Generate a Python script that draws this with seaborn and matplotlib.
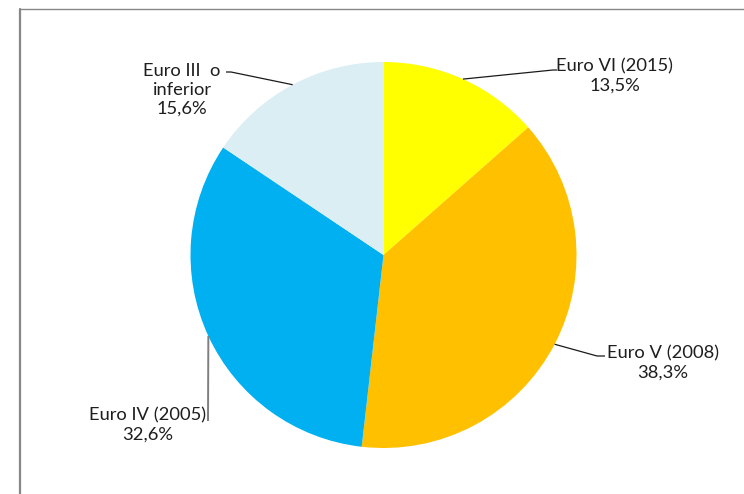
import matplotlib
matplotlib.use("Agg")
import numpy as np
import matplotlib.pyplot as plt
from matplotlib.lines import Line2D
import seaborn as sns

# Bus fleet by Euro emission standard
categories = ["Euro VI (2015)", "Euro V (2008)", "Euro IV (2005)", "Euro III  o\ninferior"]
shares = [13.5, 38.3, 32.6, 15.6]
share_labels = ["13,5%", "38,3%", "32,6%", "15,6%"]
slice_colors = ["#FFFF00", "#FFC000", "#00B0F0", "#DAEEF3"]

sns.set_theme(style="white")
plt.rcParams["font.family"] = ["Lato", "DejaVu Sans"]

W, H = 744, 494
fig = plt.figure(figsize=(W / 100, H / 100), dpi=100)
ax = fig.add_axes([0, 0, 1, 1])

cx, cy, r = 383.5, H - 255, 193
wedges, _ = ax.pie(shares, colors=slice_colors, startangle=90, counterclock=False,
                   center=(cx, cy), radius=r, wedgeprops=dict(linewidth=0))
ax.set_xlim(0, W)
ax.set_ylim(0, H)
ax.set_aspect("equal")
ax.axis("off")

# label layout: (text centre x, text centre y from top, leader path after the wedge edge, line colour, width)
layout = [
    (615, 76, [(553, 70), (557, 70)], "#1a1a1a", 0.9),
    (663, 363, [(597, 356), (605, 356)], "#1a1a1a", 0.9),
    (148, 425, [(208, 421)], "#7f7f7f", 1.4),
    (182, 90, [(231, 72), (226, 72)], "#1a1a1a", 0.9),
]

for w, cat, lab, (tx, ty, path, lc, lw) in zip(wedges, categories, share_labels, layout):
    mid = np.deg2rad((w.theta1 + w.theta2) / 2)
    ex, ey = cx + r * np.cos(mid), cy + r * np.sin(mid)
    xs = [ex] + [p[0] for p in path]
    ys = [ey] + [H - p[1] for p in path]
    ax.plot(xs, ys, color=lc, lw=lw, solid_capstyle="butt", zorder=3)
    ax.text(tx, H - ty, f"{cat}\n{lab}", ha="center", va="center", fontsize=13.2,
            color="#1e1e1e", linespacing=1.2, zorder=4)

# chart area frame (left and top edges)
fig.add_artist(Line2D([20 / W, 20 / W], [0, 1 - 9 / H], transform=fig.transFigure,
                      color="#878787", lw=1.6))
fig.add_artist(Line2D([20 / W, 1], [1 - 9.5 / H, 1 - 9.5 / H], transform=fig.transFigure,
                      color="#878787", lw=1.0))

fig.savefig("out.png", dpi=100)
